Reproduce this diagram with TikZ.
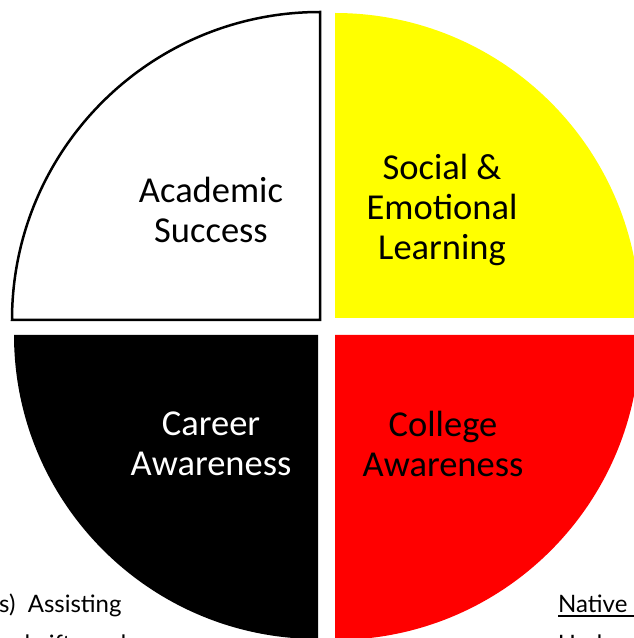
\documentclass[tikz,border=0pt]{standalone}
\usepackage{fontspec}
\setmainfont{Carlito}
\newfontfamily\notefont{Lato}
\definecolor{wyellow}{RGB}{255,255,0}
\definecolor{wred}{RGB}{255,0,0}
\tikzset{
  quadlabel/.style={align=center, font=\fontsize{36.5}{40}\selectfont, inner sep=0pt},
  notetext/.style={font=\notefont\fontsize{24}{28}\selectfont, inner sep=0pt, anchor=base west},
}
\begin{document}
\begin{tikzpicture}[x=1pt,y=1pt]
\useasboundingbox (0,0) rectangle (634,638);
\clip (0,0) rectangle (634,638);
\fill[white] (0,0) rectangle (634,638);
% quadrants
\draw[black, line width=2.5pt, fill=white] (320,318) -- (12,318) arc[start angle=180, end angle=90, radius=308pt] -- cycle;
\fill[wyellow] (335,320) -- (640,320) arc[start angle=0, end angle=90, radius=305pt] -- cycle;
\fill[black] (318,303) -- (14,303) arc[start angle=180, end angle=270, radius=304pt] -- cycle;
\fill[wred] (335,303) -- (640,303) arc[start angle=0, end angle=-90, radius=305pt] -- cycle;
% labels
\node[quadlabel, text=black] (acad) at (211,428) {Academic\\Success};
\node[quadlabel, text=black] (sel) at (442,428) {Social \&\\Emotional\\Learning};
\node[quadlabel, text=white] (career) at (211,194) {Career\\Awareness};
\node[quadlabel, text=black] (college) at (443,194) {College\\Awareness};
% overlapping text boxes at the bottom
\fill[white] (0,0) rectangle (140,56);
\node[notetext] (assist) at (-1,25) {s)\ \ Assisting};
\node[notetext] (gifts) at (-1,-14) {ual gifts and};
\node[notetext] (native) at (558,26) {Native};
\coordinate (ulend) at (634,22);
\draw[line width=1.2pt] (native.south west |- ulend) -- (ulend);
\node[notetext] (under) at (558,-14) {Understanding};
\end{tikzpicture}
\end{document}
